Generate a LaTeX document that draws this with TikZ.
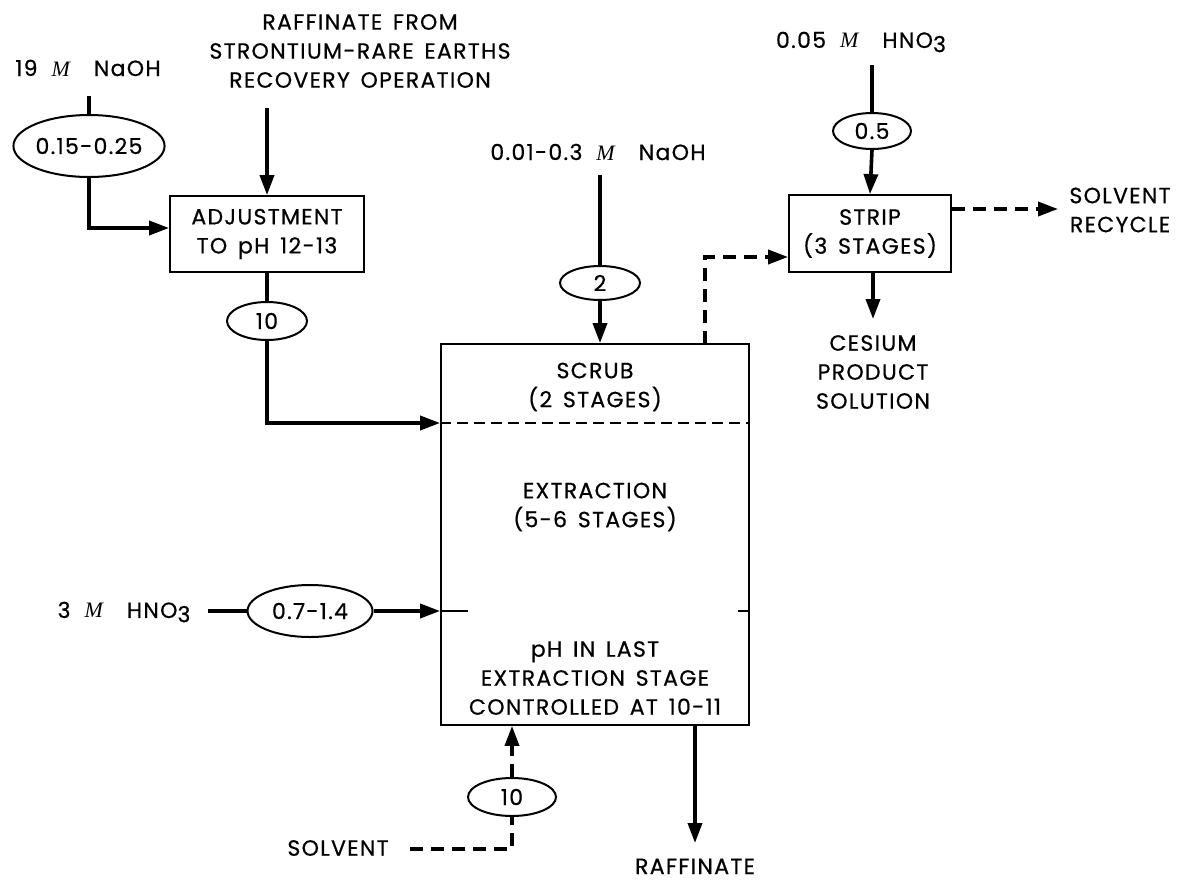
\documentclass[tikz,border=0pt]{standalone}
\usepackage{fontspec}
\setmainfont{Poppins}[LetterSpace=6,WordSpace=1.5,FakeBold=0.6]
\usetikzlibrary{shapes.geometric,arrows.meta}
\newcommand{\mM}{\hspace{14pt}{\fontspec{Liberation Serif}\itshape M}\hspace{24pt}}
\newcommand{\subthree}{\raisebox{-0.35ex}{3}}
\begin{document}
\begin{tikzpicture}[x=1pt,y=-1pt,
  every node/.style={font=\fontsize{22}{29}\selectfont, align=center},
  lbl/.style={inner sep=0pt},
  flow/.style={line width=3.6pt, -{Triangle[length=20pt,width=14pt]}},
  plain/.style={line width=3.6pt},
  dflow/.style={line width=3.6pt, dash pattern=on 13pt off 8pt, -{Triangle[length=20pt,width=14pt]}},
  dplain/.style={line width=3.6pt, dash pattern=on 13pt off 8pt},
  boxx/.style={draw, line width=1.8pt, inner sep=0pt},
  oval/.style={draw, ellipse, line width=2pt, inner sep=0pt},
]
\useasboundingbox (0,0) rectangle (1184,881);

% texts
\node[lbl] (naoh19) at (88,68) {19\mM NaOH};
\node[lbl] (rafin) at (360,51) {RAFFINATE FROM\\STRONTIUM-RARE EARTHS\\RECOVERY OPERATION};
\node[lbl] (naoh001) at (598,152) {0.01-0.3\mM NaOH};
\node[lbl] (hno005) at (861,42) {0.05\mM HNO\subthree};
\node[lbl] (recycle) at (1120,210) {SOLVENT\\RECYCLE};
\node[lbl] (cesium) at (873,372) {CESIUM\\PRODUCT\\SOLUTION};
\node[lbl] (hno3) at (124,612) {3\mM HNO\subthree};
\node[lbl] (solvent) at (338,848) {SOLVENT};
\node[lbl, anchor=base] (rafout) at (695,874) {RAFFINATE};

% boxes
\node[boxx, minimum width=194pt, minimum height=76pt] (adj) at (267,234) {ADJUSTMENT\\TO pH 12-13};
\node[boxx, minimum width=162pt, minimum height=77pt] (strip) at (870,233.5) {STRIP\\(3 STAGES)};
\node[boxx, minimum width=308pt, minimum height=381pt] (big) at (595,534.5) {};
\node[lbl] (scrub) at (595,387) {SCRUB\\(2 STAGES)};
\node[lbl] (extr) at (595,507) {EXTRACTION\\(5-6 STAGES)};
\node[lbl] (phlast) at (595,678) {pH IN LAST\\EXTRACTION STAGE\\CONTROLLED AT 10-11};

% ovals
\node[oval, minimum width=148pt, minimum height=62pt] (e1) at (89,146) {0.15-0.25};
\node[oval, minimum width=80pt, minimum height=38pt] (e2) at (267,321) {10};
\node[oval, minimum width=80pt, minimum height=34pt] (e3) at (600,283) {2};
\node[oval, minimum width=78pt, minimum height=36pt] (e4) at (872,131) {0.5};
\node[oval, minimum width=125pt, minimum height=52pt] (e5) at (310,611) {0.7-1.4};
\node[oval, minimum width=88pt, minimum height=38pt] (e6) at (512,797) {10};

% coordinates
\coordinate (c19top) at (89,96);
\coordinate (crafTop) at (267,108);
\coordinate (c001top) at (600,175);
\coordinate (c005top) at (872,65);
\coordinate (chnoL) at (208,611);
\coordinate (solR) at (410,849);
\coordinate (scrubIn) at (big.west |- 0,423);
\coordinate (scrubInR) at (big.east |- 0,423);
\coordinate (extIn) at (big.west |- 0,611);
\coordinate (extTickL) at (468,611);
\coordinate (extTickR) at (738,611);
\coordinate (extOutR) at (big.east |- 0,611);
\coordinate (stripOut) at (705,344);
\coordinate (recycleEnd) at (1058,209);
\coordinate (cesEnd) at (873,319);
\coordinate (rafEnd) at (695,843);

% dashed divider
\draw[line width=1.5pt, dash pattern=on 11pt off 6pt] (scrubIn) -- (scrubInR);
\draw[line width=1.5pt] (extIn) -- (extTickL);
\draw[line width=1.5pt] (extTickR) -- (extOutR);

% connectors
\draw[plain] (c19top) -- (e1.north);
\draw[flow] (e1.south) |- (adj.west |- 0,228);
\draw[flow] (crafTop) -- (adj.north);
\draw[plain] (adj.south) -- (e2.north);
\draw[flow] (e2.south) |- (scrubIn);
\draw[plain] (c001top) -- (e3.north);
\draw[flow] (e3.south) -- (e3.south |- big.north);
\draw[dflow] (stripOut) |- (strip.west |- 0,257);
\draw[plain] (c005top) -- (e4.north);
\draw[flow] (e4.south) -- (strip.north);
\draw[dflow] (strip.east |- recycleEnd) -- (recycleEnd);
\draw[flow] (strip.south -| cesEnd) -- (cesEnd);
\draw[plain] (chnoL) -- (e5.west);
\draw[flow] (e5.east) -- (extIn);
\draw[dplain] (solR) -| (e6.south);
\draw[dflow] (e6.north) -- (e6.north |- big.south);
\draw[flow] (big.south -| rafEnd) -- (rafEnd);
\end{tikzpicture}
\end{document}
